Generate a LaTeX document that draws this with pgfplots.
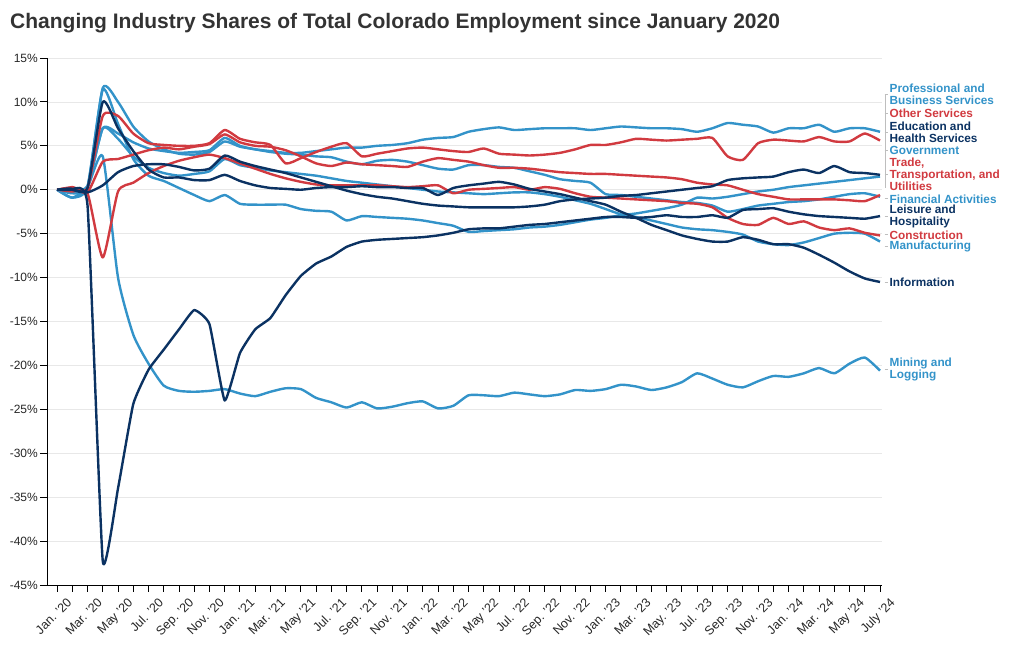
\documentclass[border=0pt]{standalone}
\usepackage{fontspec}
\setmainfont{Liberation Sans}
\usepackage{pgfplots}
\usepackage{pgfplotstable}
\pgfplotsset{compat=1.18}
\definecolor{lb}{RGB}{51,147,201}
\definecolor{nv}{RGB}{11,50,98}
\definecolor{rd}{RGB}{209,58,64}
\definecolor{ttl}{RGB}{51,51,51}
\definecolor{ldr}{RGB}{190,190,190}
\pgfplotstableread{
i  L     I     E     P    F     G     M     Mi     O    T    C
0  0.0   0.0   0.0   0.0  0.0   0.0   0.0   0.0    0.0  0.0  0.0
1  0.1   0.0   0.0   0.1  -0.4  -0.9  -0.2  -0.9   0.3  0.2  -0.2
2  -1.8  0.2   -0.3  0.4  0.4   0.3   0.3   0.3    0.2  -0.3 -0.4
3  -42.3 10.0  0.5   7.0  11.6  11.4  7.0   3.8    8.4  3.2  -7.7
4  -34.0 7.0   2.0   6.4  10.0  7.5   5.8   -10.0  8.4  3.5  -0.2
5  -24.4 4.4   2.7   5.4  7.2   3.5   3.8   -16.5  6.4  4.0  0.8
6  -20.5 2.3   2.9   4.7  5.5   1.6   2.5   -19.8  5.3  4.5  1.9
7  -18.2 1.4   2.9   4.4  4.6   1.0   1.9   -22.3  5.1  4.8  2.7
8  -15.9 1.4   2.6   4.2  4.1   0.2   1.6   -22.9  5.0  4.6  3.3
9  -13.7 1.1   2.2   4.3  4.0   -0.6  1.8   -23.0  5.0  4.9  3.7
10 -15.3 1.1   2.4   4.5  4.3   -1.3  2.1   -22.9  5.3  5.2  4.0
11 -24.0 1.7   3.9   5.9  5.5   -0.6  3.5   -22.7  6.8  6.3  3.6
12 -18.6 1.0   3.2   5.0  4.9   -1.6  2.8   -23.2  5.8  5.4  3.0
13 -15.9 0.5   2.7   4.6  4.6   -1.7  2.5   -23.5  5.4  5.0  2.4
14 -14.6 0.2   2.3   4.4  4.3   -1.7  2.2   -23.0  5.1  4.9  1.8
15 -12.0 0.1   1.9   4.2  4.1   -1.7  2.0   -22.6  3.0  4.5  1.3
16 -9.8  0.0   1.4   4.2  4.0   -2.2  1.8   -22.7  3.6  3.8  0.9
17 -8.4  0.2   0.9   4.4  3.8   -2.4  1.6   -23.7  4.3  3.0  0.6
18 -7.6  0.3   0.4   4.6  3.7   -2.5  1.3   -24.2  4.9  2.7  0.5
19 -6.5  0.3   -0.1  4.8  3.2   -3.5  1.0   -24.8  5.3  3.1  0.5
20 -5.9  0.4   -0.5  4.8  2.9   -3.0  0.8   -24.2  3.8  2.9  0.5
21 -5.7  0.3   -0.8  5.0  3.3   -3.1  0.6   -24.9  4.1  2.8  0.5
22 -5.6  0.3   -1.0  5.1  3.4   -3.2  0.4   -24.7  4.4  2.7  0.4
23 -5.5  0.2   -1.3  5.3  3.2   -3.3  0.2   -24.3  4.7  2.6  0.3
24 -5.4  0.2   -1.6  5.7  2.8   -3.5  0.0   -24.1  4.8  3.2  0.4
25 -5.2  -0.6  -1.8  5.9  2.4   -3.8  -0.2  -24.9  4.6  3.6  0.5
26 -4.9  0.2   -1.9  6.0  2.3   -4.1  -0.3  -24.6  4.4  3.4  -0.4
27 -4.5  0.5   -2.0  6.6  2.8   -4.8  -0.4  -23.4  4.3  3.2  0.0
28 -4.4  0.7   -2.0  6.9  2.8   -4.7  -0.5  -23.4  4.7  2.8  0.1
29 -4.4  0.9   -2.0  7.1  2.6   -4.6  -0.4  -23.5  4.1  2.5  0.2
30 -4.2  0.6   -2.0  6.8  2.5   -4.5  -0.3  -23.1  4.0  2.5  0.3
31 -4.0  0.1   -1.9  6.9  2.1   -4.3  -0.3  -23.3  3.9  2.4  0.0
32 -3.9  -0.2  -1.7  7.0  1.7   -4.2  -0.5  -23.5  4.0  2.2  0.3
33 -3.7  -0.5  -1.3  7.0  1.2   -4.0  -0.8  -23.3  4.2  2.0  0.1
34 -3.5  -0.9  -1.1  7.0  1.0   -3.7  -1.2  -22.8  4.6  1.9  -0.4
35 -3.3  -1.3  -1.0  6.8  0.8   -3.4  -1.6  -22.9  5.1  1.8  -0.8
36 -3.1  -1.7  -0.9  7.0  -0.5  -3.2  -2.2  -22.7  5.1  1.8  -0.9
37 -3.1  -2.5  -0.7  7.2  -0.6  -2.9  -2.8  -22.2  5.4  1.7  -1.0
38 -3.2  -3.2  -0.6  7.1  -0.8  -2.7  -3.1  -22.4  5.8  1.6  -1.1
39 -3.1  -4.0  -0.4  7.0  -1.0  -2.4  -3.5  -22.8  5.7  1.5  -1.2
40 -2.9  -4.6  -0.2  7.0  -1.2  -2.1  -3.9  -22.5  5.6  1.4  -1.3
41 -3.1  -5.2  0.0   6.9  -1.4  -1.7  -4.3  -21.9  5.7  1.2  -1.5
42 -3.1  -5.6  0.2   6.6  -1.5  -0.9  -4.5  -20.9  5.8  0.8  -1.6
43 -2.9  -5.9  0.4   7.0  -1.8  -1.0  -4.6  -21.5  5.9  0.6  -2.0
44 -3.2  -5.9  1.1   7.6  -2.5  -0.8  -4.8  -22.2  3.8  0.5  -3.2
45 -2.3  -5.4  1.3   7.4  -2.2  -0.5  -5.1  -22.5  3.4  0.0  -3.9
46 -2.2  -5.7  1.4   7.2  -1.8  -0.2  -5.9  -21.8  5.3  -0.5 -4.0
47 -2.1  -6.2  1.5   6.5  -1.6  0.0   -6.2  -21.2  5.7  -0.8 -3.2
48 -2.5  -6.2  2.0   7.0  -1.4  0.3   -6.3  -21.3  5.6  -1.1 -3.9
49 -2.8  -6.6  2.3   7.0  -1.3  0.5   -6.0  -20.9  5.5  -1.1 -3.6
50 -3.0  -7.4  1.9   7.4  -1.1  0.7   -5.5  -20.3  6.0  -1.1 -4.3
51 -3.1  -8.3  2.7   6.6  -0.8  0.9   -5.0  -20.9  5.5  -1.1 -4.6
52 -3.2  -9.3  2.0   7.0  -0.5  1.1   -4.9  -19.8  5.5  -1.2 -4.4
53 -3.3  -10.1 1.9   7.0  -0.4  1.3   -5.0  -19.1  6.4  -1.3 -4.9
54 -3.0  -10.5 1.7   6.6  -0.8  1.5   -5.9  -20.6  5.6  -0.6 -5.2
}\data
\begin{document}
\begin{tikzpicture}
\useasboundingbox (0pt,0pt) rectangle (1020pt,650pt);
\node[anchor=west, inner sep=0pt, text=ttl, font=\bfseries\fontsize{21}{24}\selectfont] at (10pt,627pt) {Changing Industry Shares of Total Colorado Employment since January 2020};
\begin{axis}[
  at={(47pt,65pt)}, anchor=south west, scale only axis,
  width=835pt, height=527pt,
  xmin=-0.66, xmax=54.13, ymin=-45, ymax=15,
  axis x line*=bottom, axis y line*=left,
  axis line style={black, line width=0.9pt, -},
  ytick={-45,-40,-35,-30,-25,-20,-15,-10,-5,0,5,10,15},
  yticklabels={-45\%,-40\%,-35\%,-30\%,-25\%,-20\%,-15\%,-10\%,-5\%,0\%,5\%,10\%,15\%},
  ymajorgrids, grid style={black!9, line width=0.7pt},
  xtick={0,2,...,54}, minor xtick={1,3,...,53},
  xticklabels={Jan. '20,Mar. '20,May '20,Jul. '20,Sep. '20,Nov. '20,Jan. '21,Mar. '21,May '21,Jul. '21,Sep. '21,Nov. '21,Jan. '22,Mar. '22,May '22,Jul. '22,Sep. '22,Nov. '22,Jan. '23,Mar. '23,May. '23,Jul. '23,Sep. '23,Nov. '23,Jan. '24,Mar. '24,May '24,July '24},
  tick align=outside, major tick length=7pt, minor tick length=7pt,
  tick style={black, line width=0.9pt},
  minor x tick style={black, line width=0.9pt},
  xticklabel style={rotate=45, anchor=north east, inner sep=1pt, xshift=4pt, yshift=-9pt, font=\fontsize{12.5}{14}\selectfont, text=black!85},
  yticklabel style={font=\fontsize{12}{14}\selectfont, text=black!85, inner sep=2pt},
  clip=false,
  every axis plot/.append style={line width=2.4pt, smooth, tension=0.35, line join=round},
  no markers,
]
\addplot[lb] table[x=i,y=Mi]{\data};
\addplot[lb] table[x=i,y=M]{\data};
\addplot[lb] table[x=i,y=G]{\data};
\addplot[lb] table[x=i,y=F]{\data};
\addplot[lb] table[x=i,y=P]{\data};
\addplot[rd] table[x=i,y=C]{\data};
\addplot[rd] table[x=i,y=T]{\data};
\addplot[rd] table[x=i,y=O]{\data};
\addplot[nv] table[x=i,y=I]{\data};
\addplot[nv] table[x=i,y=E]{\data};
\addplot[nv, tension=0.25] table[x=i,y=L]{\data};
% leader lines
\draw[ldr, line width=0.8pt] (axis cs:54.33,10.82) -- (axis cs:54.33,0.2);
\pgfplotsinvokeforeach{10.82,8.66,6.49,4.44,1.71,-1.03,-3.02,-5.13,-6.49,-10.59,-20.5}{
  \draw[ldr, line width=0.8pt] (axis cs:54.3,#1) -- (axis cs:54.52,#1);
}
\tikzset{lab/.style={anchor=west, inner sep=0pt, align=left, font=\bfseries\fontsize{11.8}{12}\selectfont}}
\node[lab, text=lb] at (axis cs:54.62,10.82) {Professional and\\Business Services};
\node[lab, text=rd] at (axis cs:54.62,8.66) {Other Services};
\node[lab, text=nv] at (axis cs:54.62,6.49) {Education and\\Health Services};
\node[lab, text=lb] at (axis cs:54.62,4.44) {Government};
\node[lab, text=rd] at (axis cs:54.62,1.71) {Trade,\\Transportation, and\\Utilities};
\node[lab, text=lb] at (axis cs:54.62,-1.03) {Financial Activities};
\node[lab, text=nv] at (axis cs:54.62,-3.02) {Leisure and\\Hospitality};
\node[lab, text=rd] at (axis cs:54.62,-5.13) {Construction};
\node[lab, text=lb] at (axis cs:54.62,-6.49) {Manufacturing};
\node[lab, text=nv] at (axis cs:54.62,-10.59) {Information};
\node[lab, text=lb] at (axis cs:54.62,-20.5) {Mining and\\Logging};
\end{axis}
\end{tikzpicture}
\end{document}
